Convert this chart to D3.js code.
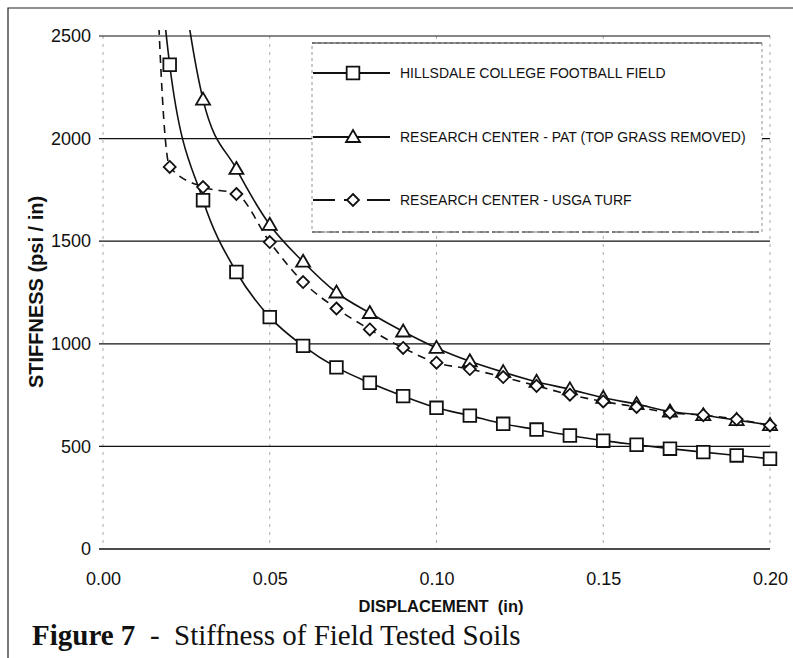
<!DOCTYPE html>
<html>
<head>
<meta charset="utf-8">
<script src="https://cdn.jsdelivr.net/npm/d3@7"></script>
<style>
  body { margin: 0; background: #fff; }
  svg { display: block; }
  text { font-family: "Liberation Sans", Arial, sans-serif; fill: #111; }
</style>
</head>
<body>
<svg class="stiffness" width="793" height="658"></svg>
<script>
// displacement (in) for each reading
const displacement = [0.01, 0.02, 0.03, 0.04, 0.05, 0.06, 0.07, 0.08, 0.09, 0.10,
    0.11, 0.12, 0.13, 0.14, 0.15, 0.16, 0.17, 0.18, 0.19, 0.20]

// stiffness (psi / in)
const hillsdale = [4300, 2360, 1700, 1350, 1130, 990, 885, 810, 745, 688,
    650, 610, 582, 553, 528, 508, 489, 472, 456, 440]
const patRemoved = [5200, 3300, 2190, 1852, 1580, 1400, 1250, 1150, 1060, 980,
    915, 862, 815, 778, 737, 706, 670, 652, 628, 604]
const usgaTurf = [6500, 1862, 1764, 1730, 1496, 1301, 1172, 1070, 980, 908,
    877, 838, 795, 752, 719, 692, 664, 652, 632, 602]

const seriesNames = ["HILLSDALE COLLEGE FOOTBALL FIELD",
    "RESEARCH CENTER - PAT (TOP GRASS REMOVED)",
    "RESEARCH CENTER - USGA TURF"]
const xTicks = [0, 0.05, 0.10, 0.15, 0.20]
const yTicks = [0, 500, 1000, 1500, 2000, 2500]

const series = [
    {name: seriesNames[0], values: hillsdale, marker: "square", dash: null},
    {name: seriesNames[1], values: patRemoved, marker: "triangle", dash: null},
    {name: seriesNames[2], values: usgaTurf, marker: "diamond", dash: "8,6"}
]

const svg = d3.select("svg.stiffness")

const x = d3.scaleLinear().domain([0, 0.2]).range([103, 770])
const y = d3.scaleLinear().domain([0, 2500]).range([549, 36])

// figure frame (top and left only, like the scan)
svg.append("path")
    .attr("d", "M8,658 L8,8 L793,8")
    .attr("fill", "none")
    .attr("stroke", "#222")
    .attr("stroke-width", 1.2)

// vertical grid, faint dashed
svg.append("g")
    .selectAll("line")
    .data(xTicks)
    .enter()
    .append("line")
    .attr("x1", d => x(d)).attr("x2", d => x(d))
    .attr("y1", y(2500)).attr("y2", y(0))
    .attr("stroke", "#999")
    .attr("stroke-width", 0.8)
    .attr("stroke-dasharray", "3,5")

// horizontal grid, solid
svg.append("g")
    .selectAll("line")
    .data(yTicks)
    .enter()
    .append("line")
    .attr("x1", x(0) - 4).attr("x2", x(0.2))
    .attr("y1", d => y(d)).attr("y2", d => y(d))
    .attr("stroke", "#111")
    .attr("stroke-width", d => d === 0 ? 1.6 : 1.2)

// y axis labels
const yAxis = d3.axisLeft(y).tickValues(yTicks).tickFormat(d3.format("d")).tickSize(0).tickPadding(12)
svg.append("g")
    .attr("transform", `translate(${x(0)},0)`)
    .call(yAxis)
    .call(g => g.select(".domain").remove())
    .selectAll("text")
    .style("font-size", "18px")
    .attr("font-family", null)

// x axis labels
const xAxis = d3.axisBottom(x).tickValues(xTicks).tickFormat(d3.format(".2f")).tickSize(0).tickPadding(23)
svg.append("g")
    .attr("transform", `translate(0,${y(0)})`)
    .call(xAxis)
    .call(g => g.select(".domain").remove())
    .selectAll("text")
    .style("font-size", "18px")
    .attr("font-family", null)

// axis titles
svg.append("text")
    .attr("x", 441).attr("y", 612)
    .attr("text-anchor", "middle")
    .style("font-size", "16.5px")
    .style("font-weight", "bold")
    .style("white-space", "pre")
    .text("DISPLACEMENT  (in)")

svg.append("text")
    .attr("transform", "translate(43,292) rotate(-90)")
    .attr("text-anchor", "middle")
    .style("font-size", "20px")
    .style("font-weight", "bold")
    .text("STIFFNESS (psi / in)")

// caption
const caption = svg.append("text")
    .attr("x", 32).attr("y", 645)
    .style("font-family", "'Liberation Serif', 'Times New Roman', serif")
    .style("font-size", "29px")
    .style("white-space", "pre")
caption.append("tspan").style("font-weight", "bold").text("Figure 7")
caption.append("tspan").text("  -  Stiffness of Field Tested Soils")

// clip curves to plot area
svg.append("defs").append("clipPath").attr("id", "plotClip")
    .append("rect")
    .attr("x", x(0)).attr("y", 30)
    .attr("width", x(0.2) - x(0) + 10).attr("height", y(0) - 30)

const lineGen = d3.line()
    .x(d => x(d[0]))
    .y(d => y(d[1]))
    .curve(d3.curveMonotoneX)

const markerPath = {
    square: d3.symbol(d3.symbolSquare, 160)(),
    triangle: "M0,-7L7,5L-7,5Z",
    diamond: "M0,-6L6,0L0,6L-6,0Z"
}

const plot = svg.append("g").attr("clip-path", "url(#plotClip)")

series.forEach(s => {
    const pts = displacement.map((d, i) => [d, s.values[i]])
    plot.append("path")
        .datum(pts)
        .attr("d", lineGen)
        .attr("fill", "none")
        .attr("stroke", "#111")
        .attr("stroke-width", 1.6)
        .attr("stroke-dasharray", s.dash)

    plot.selectAll(null)
        .data(pts)
        .enter()
        .append("path")
        .attr("transform", d => `translate(${x(d[0])},${y(d[1])})`)
        .attr("d", markerPath[s.marker])
        .attr("fill", "#fff")
        .attr("stroke", "#111")
        .attr("stroke-width", 1.8)
})

// legend
const legend = svg.append("g")
legend.append("rect")
    .attr("x", 312).attr("y", 43)
    .attr("width", 450).attr("height", 189)
    .attr("fill", "#fff")
    .attr("stroke", "#777")
    .attr("stroke-width", 0.8)
    .attr("stroke-dasharray", "3,3")
legend.append("line")
    .attr("x1", 312).attr("x2", 762)
    .attr("y1", 43).attr("y2", 43)
    .attr("stroke", "#222").attr("stroke-width", 1.2)
legend.append("line")
    .attr("x1", 312).attr("x2", 762)
    .attr("y1", 232).attr("y2", 232)
    .attr("stroke", "#333").attr("stroke-width", 1)
    .attr("stroke-dasharray", "12,3")

const legendY = [73, 137, 200]
series.forEach((s, i) => {
    const row = legend.append("g").attr("transform", `translate(0,${legendY[i]})`)
    row.append("line")
        .attr("x1", 313).attr("x2", 390)
        .attr("stroke", "#111")
        .attr("stroke-width", 1.8)
        .attr("stroke-dasharray", s.dash ? "22,9,14,9,23" : null)
    row.append("path")
        .attr("transform", "translate(353,0)")
        .attr("d", markerPath[s.marker])
        .attr("fill", "#fff")
        .attr("stroke", "#111")
        .attr("stroke-width", 1.8)
    row.append("text")
        .attr("x", 400).attr("y", 5)
        .style("font-size", "14px")
        .text(s.name)
})
</script>
</body>
</html>
